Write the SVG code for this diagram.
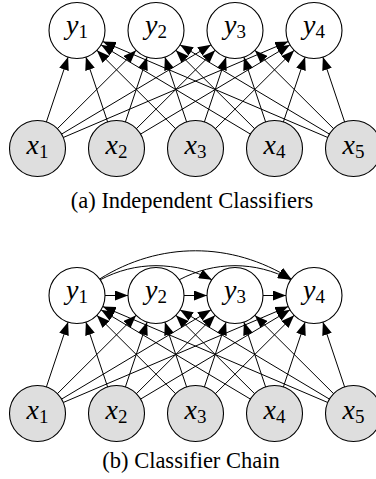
<svg xmlns="http://www.w3.org/2000/svg" width="376" height="479" viewBox="0 0 376 479">
<style>
.y{fill:#fff;stroke:#000;stroke-width:1.1}
.x{fill:#dedede;stroke:#000;stroke-width:1.1}
.lbl{font-size:28px;fill:#000;text-anchor:middle}
.v{font-style:italic}
.s{font-size:19px}
.cap{font-size:22.5px;fill:#000;text-anchor:middle}
.e line,.e path{stroke:#000;stroke-width:1;fill:none;marker-end:url(#ah)}
</style>
<defs>
<marker id="ah" markerUnits="userSpaceOnUse" viewBox="0 0 13 10" markerWidth="13" markerHeight="10" refX="13" refY="5" orient="auto">
<path d="M0,0 L13,5 L0,10 z" fill="#000"/>
</marker>
</defs>

<g id="panel-a" font-family="'Liberation Serif','Times New Roman',serif">
<g transform="translate(0,1)">
<g id="edges-a" class="e">
<line x1="46.39" y1="120.95" x2="68.11" y2="56.05"/>
<line x1="107.61" y1="120.95" x2="85.89" y2="56.05"/>
<line x1="175.66" y1="127.74" x2="96.84" y2="49.26"/>
<line x1="250.46" y1="133.14" x2="101.04" y2="43.86"/>
<line x1="327.75" y1="136.51" x2="102.75" y2="40.49"/>
<line x1="57.34" y1="127.74" x2="136.16" y2="49.26"/>
<line x1="125.39" y1="120.95" x2="147.11" y2="56.05"/>
<line x1="186.61" y1="120.95" x2="164.89" y2="56.05"/>
<line x1="254.66" y1="127.74" x2="175.84" y2="49.26"/>
<line x1="329.46" y1="133.14" x2="180.04" y2="43.86"/>
<line x1="61.54" y1="133.14" x2="210.96" y2="43.86"/>
<line x1="136.34" y1="127.74" x2="215.16" y2="49.26"/>
<line x1="204.39" y1="120.95" x2="226.11" y2="56.05"/>
<line x1="265.61" y1="120.95" x2="243.89" y2="56.05"/>
<line x1="333.66" y1="127.74" x2="254.84" y2="49.26"/>
<line x1="63.25" y1="136.51" x2="288.25" y2="40.49"/>
<line x1="140.54" y1="133.14" x2="289.96" y2="43.86"/>
<line x1="215.34" y1="127.74" x2="294.16" y2="49.26"/>
<line x1="283.39" y1="120.95" x2="305.11" y2="56.05"/>
<line x1="344.61" y1="120.95" x2="322.89" y2="56.05"/>
</g>
<g id="a-y1"><circle class="y" cx="77" cy="29.5" r="28"/><text class="lbl" x="77" y="32.5"><tspan class="v">y</tspan><tspan class="s" dy="4">1</tspan></text></g>
<g id="a-y2"><circle class="y" cx="156" cy="29.5" r="28"/><text class="lbl" x="156" y="32.5"><tspan class="v">y</tspan><tspan class="s" dy="4">2</tspan></text></g>
<g id="a-y3"><circle class="y" cx="235" cy="29.5" r="28"/><text class="lbl" x="235" y="32.5"><tspan class="v">y</tspan><tspan class="s" dy="4">3</tspan></text></g>
<g id="a-y4"><circle class="y" cx="314" cy="29.5" r="28"/><text class="lbl" x="314" y="32.5"><tspan class="v">y</tspan><tspan class="s" dy="4">4</tspan></text></g>
<g id="a-x1"><circle class="x" cx="37.5" cy="147.5" r="28"/><text class="lbl" x="37.5" y="152.5"><tspan class="v">x</tspan><tspan class="s" dy="4">1</tspan></text></g>
<g id="a-x2"><circle class="x" cx="116.5" cy="147.5" r="28"/><text class="lbl" x="116.5" y="152.5"><tspan class="v">x</tspan><tspan class="s" dy="4">2</tspan></text></g>
<g id="a-x3"><circle class="x" cx="195.5" cy="147.5" r="28"/><text class="lbl" x="195.5" y="152.5"><tspan class="v">x</tspan><tspan class="s" dy="4">3</tspan></text></g>
<g id="a-x4"><circle class="x" cx="274.5" cy="147.5" r="28"/><text class="lbl" x="274.5" y="152.5"><tspan class="v">x</tspan><tspan class="s" dy="4">4</tspan></text></g>
<g id="a-x5"><circle class="x" cx="353.5" cy="147.5" r="28"/><text class="lbl" x="353.5" y="152.5"><tspan class="v">x</tspan><tspan class="s" dy="4">5</tspan></text></g>
</g>
<text class="cap" x="192" y="207.5">(a) Independent Classifiers</text>
</g>

<g id="panel-b" font-family="'Liberation Serif','Times New Roman',serif">
<g id="edges-b" class="e">
<line x1="46.39" y1="386.95" x2="68.11" y2="322.05"/>
<line x1="107.61" y1="386.95" x2="85.89" y2="322.05"/>
<line x1="175.66" y1="393.74" x2="96.84" y2="315.26"/>
<line x1="250.46" y1="399.14" x2="101.04" y2="309.86"/>
<line x1="327.75" y1="402.51" x2="102.75" y2="306.49"/>
<line x1="57.34" y1="393.74" x2="136.16" y2="315.26"/>
<line x1="125.39" y1="386.95" x2="147.11" y2="322.05"/>
<line x1="186.61" y1="386.95" x2="164.89" y2="322.05"/>
<line x1="254.66" y1="393.74" x2="175.84" y2="315.26"/>
<line x1="329.46" y1="399.14" x2="180.04" y2="309.86"/>
<line x1="61.54" y1="399.14" x2="210.96" y2="309.86"/>
<line x1="136.34" y1="393.74" x2="215.16" y2="315.26"/>
<line x1="204.39" y1="386.95" x2="226.11" y2="322.05"/>
<line x1="265.61" y1="386.95" x2="243.89" y2="322.05"/>
<line x1="333.66" y1="393.74" x2="254.84" y2="315.26"/>
<line x1="63.25" y1="402.51" x2="288.25" y2="306.49"/>
<line x1="140.54" y1="399.14" x2="289.96" y2="309.86"/>
<line x1="215.34" y1="393.74" x2="294.16" y2="315.26"/>
<line x1="283.39" y1="386.95" x2="305.11" y2="322.05"/>
<line x1="344.61" y1="386.95" x2="322.89" y2="322.05"/>
<line x1="105" y1="295.5" x2="128" y2="295.5"/>
<line x1="184" y1="295.5" x2="207" y2="295.5"/>
<line x1="263" y1="295.5" x2="286" y2="295.5"/>
<path d="M100.14,279.84 C135.66,260.96 176.34,260.96 211.86,279.84"/>
<path d="M179.14,279.84 C214.66,260.96 255.34,260.96 290.86,279.84"/>
<path d="M99.67,278.97 C159.6,241.37 231.4,241.37 291.33,278.97"/>
</g>
<g id="b-y1"><circle class="y" cx="77" cy="295.5" r="28"/><text class="lbl" x="77" y="298.5"><tspan class="v">y</tspan><tspan class="s" dy="4">1</tspan></text></g>
<g id="b-y2"><circle class="y" cx="156" cy="295.5" r="28"/><text class="lbl" x="156" y="298.5"><tspan class="v">y</tspan><tspan class="s" dy="4">2</tspan></text></g>
<g id="b-y3"><circle class="y" cx="235" cy="295.5" r="28"/><text class="lbl" x="235" y="298.5"><tspan class="v">y</tspan><tspan class="s" dy="4">3</tspan></text></g>
<g id="b-y4"><circle class="y" cx="314" cy="295.5" r="28"/><text class="lbl" x="314" y="298.5"><tspan class="v">y</tspan><tspan class="s" dy="4">4</tspan></text></g>
<g id="b-x1"><circle class="x" cx="37.5" cy="413.5" r="28"/><text class="lbl" x="37.5" y="418.5"><tspan class="v">x</tspan><tspan class="s" dy="4">1</tspan></text></g>
<g id="b-x2"><circle class="x" cx="116.5" cy="413.5" r="28"/><text class="lbl" x="116.5" y="418.5"><tspan class="v">x</tspan><tspan class="s" dy="4">2</tspan></text></g>
<g id="b-x3"><circle class="x" cx="195.5" cy="413.5" r="28"/><text class="lbl" x="195.5" y="418.5"><tspan class="v">x</tspan><tspan class="s" dy="4">3</tspan></text></g>
<g id="b-x4"><circle class="x" cx="274.5" cy="413.5" r="28"/><text class="lbl" x="274.5" y="418.5"><tspan class="v">x</tspan><tspan class="s" dy="4">4</tspan></text></g>
<g id="b-x5"><circle class="x" cx="353.5" cy="413.5" r="28"/><text class="lbl" x="353.5" y="418.5"><tspan class="v">x</tspan><tspan class="s" dy="4">5</tspan></text></g>
<text class="cap" x="191" y="468">(b) Classifier Chain</text>
</g>
</svg>
